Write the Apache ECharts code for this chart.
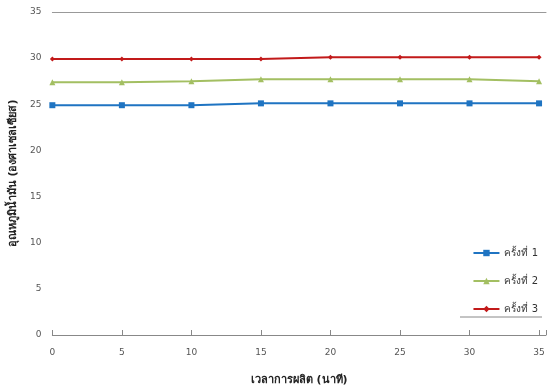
<!DOCTYPE html>
<html>
<head>
<meta charset="utf-8">
<style>
html, body { margin: 0; padding: 0; background: #fff; }
#main { width: 549px; height: 391px; }
</style>
<script src="https://cdn.jsdelivr.net/npm/echarts@6/dist/echarts.min.js"></script>
</head>
<body>
<div id="main"></div>
<script>
let xValues = [0, 5, 10, 15, 20, 25, 30, 35];
let round1 = [24.9, 24.9, 24.9, 25.1, 25.1, 25.1, 25.1, 25.1];
let round2 = [27.4, 27.4, 27.5, 27.7, 27.7, 27.7, 27.7, 27.5];
let round3 = [29.9, 29.9, 29.9, 29.9, 30.1, 30.1, 30.1, 30.1];
let seriesNames = ['ครั้งที่ 1', 'ครั้งที่ 2', 'ครั้งที่ 3'];

let myChart = echarts.init(document.getElementById('main'));

let pairUp = (ys) => xValues.map((x, i) => [x, ys[i]]);

let fontStack = 'Tahoma, "DejaVu Sans", "Noto Sans", sans-serif';

myChart.setOption({
    animation: false,
    textStyle: {fontFamily: fontStack},
    grid: {left: 50, right: 0, top: 12, bottom: 56},
    legend: {
        orient: 'vertical',
        right: 6,
        top: 243,
        itemGap: 18,
        itemWidth: 26,
        itemHeight: 8,
        textStyle: {fontSize: 10, color: '#333'},
        data: seriesNames
    },
    xAxis: [{
        type: 'value',
        min: 0,
        max: 35.5,
        interval: 5,
        name: 'เวลาการผลิต (นาที)',
        nameLocation: 'middle',
        nameGap: 40,
        nameTextStyle: {fontSize: 11, color: '#222', fontWeight: 'bold'},
        axisLine: {lineStyle: {color: '#888', width: 1}},
        axisTick: {show: true, inside: true, length: 5, lineStyle: {color: '#888'}},
        axisLabel: {
            color: '#555', fontSize: 9, margin: 13,
            formatter: (v) => (v % 5 === 0 ? v : '')
        },
        splitLine: {show: false}
    }, {
        type: 'value',
        position: 'top',
        min: 0,
        max: 35.5,
        axisLine: {show: true, lineStyle: {color: '#999', width: 1}},
        axisTick: {show: false},
        axisLabel: {show: false},
        splitLine: {show: false}
    }],
    yAxis: {
        type: 'value',
        min: 0,
        max: 35,
        interval: 5,
        name: 'อุณหภูมิน้ำมัน (องศาเซลเซียส)',
        nameLocation: 'middle',
        nameGap: 33,
        nameTextStyle: {fontSize: 11, color: '#222', fontWeight: 'bold'},
        axisLine: {show: false},
        axisTick: {show: false},
        axisLabel: {color: '#555', fontSize: 9, margin: 11},
        splitLine: {show: false}
    },
    graphic: [{
        type: 'line',
        shape: {x1: 460, y1: 317, x2: 542, y2: 317},
        style: {stroke: '#888', lineWidth: 1}
    }],
    series: [{
        name: seriesNames[0],
        type: 'line',
        data: pairUp(round1),
        symbol: 'rect',
        symbolSize: 6,
        lineStyle: {width: 2, color: '#1f74c2'},
        itemStyle: {color: '#1f74c2'}
    }, {
        name: seriesNames[1],
        type: 'line',
        data: pairUp(round2),
        symbol: 'triangle',
        symbolSize: 6,
        lineStyle: {width: 2, color: '#a3bf62'},
        itemStyle: {color: '#a3bf62'}
    }, {
        name: seriesNames[2],
        type: 'line',
        data: pairUp(round3),
        symbol: 'diamond',
        symbolSize: 5,
        lineStyle: {width: 2, color: '#c21a1a'},
        itemStyle: {color: '#c21a1a'}
    }]
});
</script>
</body>
</html>
